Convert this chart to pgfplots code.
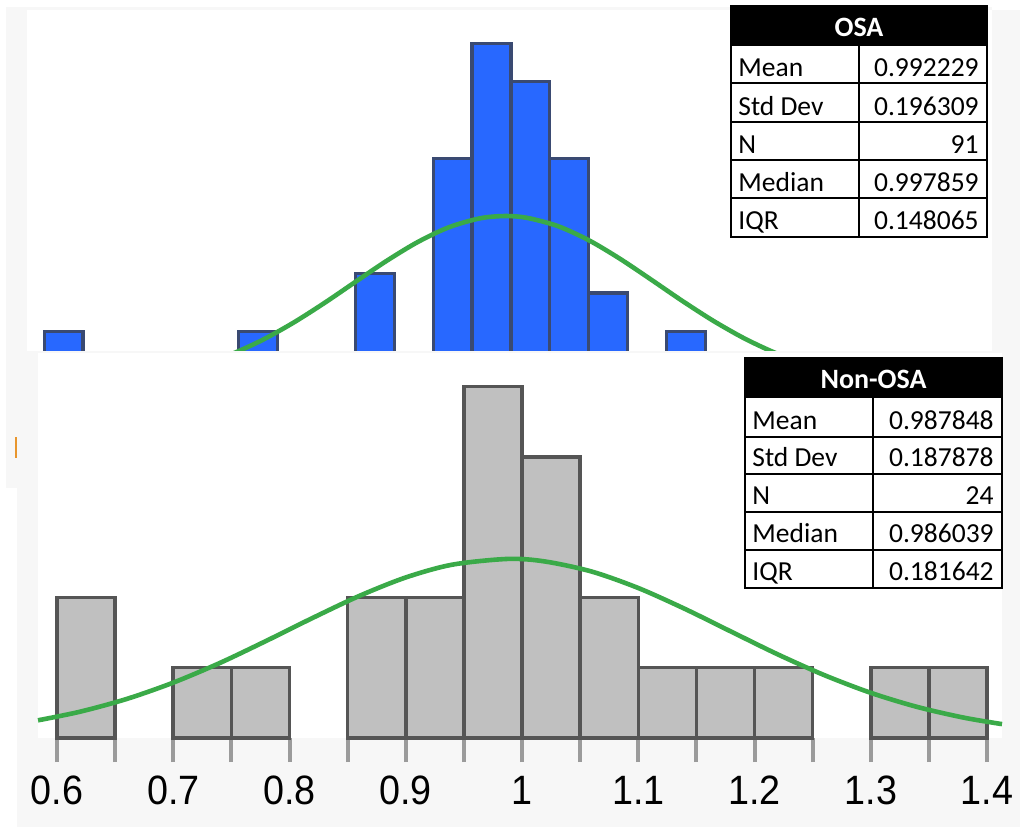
\documentclass[border=0pt]{standalone}
\usepackage{fontspec}
\setmainfont{Carlito}
\newfontfamily\axisfont{Liberation Sans}
\usepackage{pgfplots}
\pgfplotsset{compat=1.18}

\definecolor{osablue}{RGB}{40,104,255}
\definecolor{osaedge}{RGB}{58,74,114}
\definecolor{nonfill}{RGB}{192,192,192}
\definecolor{nonedge}{RGB}{85,85,85}
\definecolor{fitgreen}{RGB}{58,170,72}
\definecolor{panelgray}{RGB}{247,247,247}
\definecolor{tickgray}{RGB}{155,155,155}
\definecolor{marker}{RGB}{232,150,46}

\newcommand\cellfont{\fontsize{13.75}{14}\selectfont}
\newcommand\headfont{\bfseries\fontsize{14}{14}\selectfont}

\begin{document}
\begin{tikzpicture}
% page and frame of the OSA panel (1 unit = one pixel)
\begin{scope}[x=0.5pt,y=-0.5pt]
  \fill[white] (0,0) rectangle (1020,827);
  \useasboundingbox (0,0) rectangle (1020,827);
  \fill[panelgray] (6,7) rectangle (992,351);
  \fill[panelgray] (992,10) rectangle (1020,351);
  \fill[white] (27,10) rectangle (992,351);
\end{scope}

% OSA histogram (counts per 0.05 bin) with its normal fit
\begin{axis}[at={(13.5pt,-5pt)}, anchor=north west, scale only axis,
  width=482.5pt, height=189.5pt,
  xmin=0.3779, xmax=1.6183, ymin=0, ymax=19.74, hide axis]
  \addplot[ybar, bar width=0.05, bar shift=0pt, fill=osablue, draw=osaedge,
    line width=1.6pt] coordinates {
    (0.425,3) (0.675,3) (0.825,6) (0.925,12) (0.975,18)
    (1.025,16) (1.075,12) (1.125,5) (1.225,3)};
  \addplot[smooth, no markers, draw=fitgreen, line width=2.3pt] coordinates {
    (0.56,0.798) (0.60,1.224) (0.64,1.802) (0.68,2.543) (0.72,3.446)
    (0.76,4.476) (0.80,5.579) (0.84,6.671) (0.88,7.652) (0.92,8.421)
    (0.96,8.889) (0.992,9.010) (1.02,8.920) (1.06,8.488) (1.10,7.749)
    (1.14,6.786) (1.18,5.702) (1.22,4.595) (1.26,3.553) (1.30,2.635)
    (1.34,1.876) (1.38,1.280) (1.42,0.839)};
\end{axis}

\begin{scope}[x=0.5pt,y=-0.5pt]
  % OSA summary table
  \fill[black] (731,6) rectangle (987,46);
  \draw[line width=1pt] (731,6) rectangle (987,237);
  \foreach \yy in {83,122,160,198} \draw[line width=1pt] (731,\yy) -- (987,\yy);
  \draw[line width=1pt] (859,46) -- (859,237);
  \node[inner sep=0pt, anchor=base, text=white, font=\headfont] at (859,36) {OSA};
  \foreach \yy/\lab/\val in {76/Mean/0.992229, 115/Std Dev/0.196309, 153/N/91,
      191/Median/0.997859, 229/IQR/0.148065} {
    \node[inner sep=0pt, anchor=base west, font=\cellfont] at (738,\yy) {\lab};
    \node[inner sep=0pt, anchor=base east, font=\cellfont] at (979,\yy) {\val};
  }
  % frame of the Non-OSA panel drawn over the lower part of the OSA panel
  \fill[panelgray] (6,350) rectangle (17,488);
  \draw[marker, line width=0.6pt] (16,437) -- (16,458);
  \fill[panelgray] (17,351) rectangle (1020,827);
  \fill[white] (38,353) rectangle (1002,738);
\end{scope}

% Non-OSA histogram with its normal fit
\begin{axis}[at={(19pt,-369pt)}, anchor=south west, scale only axis,
  width=482pt, height=192.5pt,
  xmin=0.58366, xmax=1.41290, ymin=0, ymax=5.477, clip=false,
  axis line style={draw=none}, ytick=\empty, xtick pos=bottom, tick align=outside,
  xtick={0.6,0.7,0.8,0.9,1,1.1,1.2,1.3,1.4},
  minor xtick={0.65,0.75,0.85,0.95,1.05,1.15,1.25,1.35},
  major tick length=12pt, minor tick length=12pt,
  tick style={draw=tickgray, line width=2pt},
  xticklabel style={font=\axisfont\fontsize{20.5}{21}\selectfont, text=black,
    xscale=0.92, yshift=-3.5pt},
  /pgf/number format/assume math mode=true]
  \addplot[ybar, bar width=0.05, bar shift=0pt, fill=nonfill, draw=nonedge,
    line width=1.75pt] coordinates {
    (0.625,2) (0.725,1) (0.775,1) (0.875,2) (0.925,2) (0.975,5) (1.025,4)
    (1.075,2) (1.125,1) (1.175,1) (1.225,1) (1.325,1) (1.375,1)};
  \addplot[smooth, no markers, draw=fitgreen, line width=2.3pt] coordinates {
    (0.5837,0.252) (0.62,0.375) (0.66,0.556) (0.70,0.788) (0.74,1.067)
    (0.78,1.382) (0.82,1.709) (0.86,2.021) (0.90,2.284) (0.94,2.466)
    (0.988,2.548) (1.02,2.511) (1.06,2.368) (1.10,2.134) (1.14,1.838)
    (1.18,1.513) (1.22,1.190) (1.26,0.895) (1.30,0.643) (1.34,0.442)
    (1.38,0.290) (1.4129,0.198)};
\end{axis}

% Non-OSA summary table
\begin{scope}[x=0.5pt,y=-0.5pt]
  \fill[black] (745,358) rectangle (1002,398);
  \draw[line width=1pt] (745,358) rectangle (1002,588);
  \foreach \yy in {437,474,512,550} \draw[line width=1pt] (745,\yy) -- (1002,\yy);
  \draw[line width=1pt] (873,398) -- (873,588);
  \node[inner sep=0pt, anchor=base, text=white, font=\headfont] at (873.5,388) {Non-OSA};
  \foreach \yy/\lab/\val in {429/Mean/0.987848, 466/Std Dev/0.187878, 504/N/24,
      542/Median/0.986039, 580/IQR/0.181642} {
    \node[inner sep=0pt, anchor=base west, font=\cellfont] at (752,\yy) {\lab};
    \node[inner sep=0pt, anchor=base east, font=\cellfont] at (994,\yy) {\val};
  }
\end{scope}
\end{tikzpicture}
\end{document}
